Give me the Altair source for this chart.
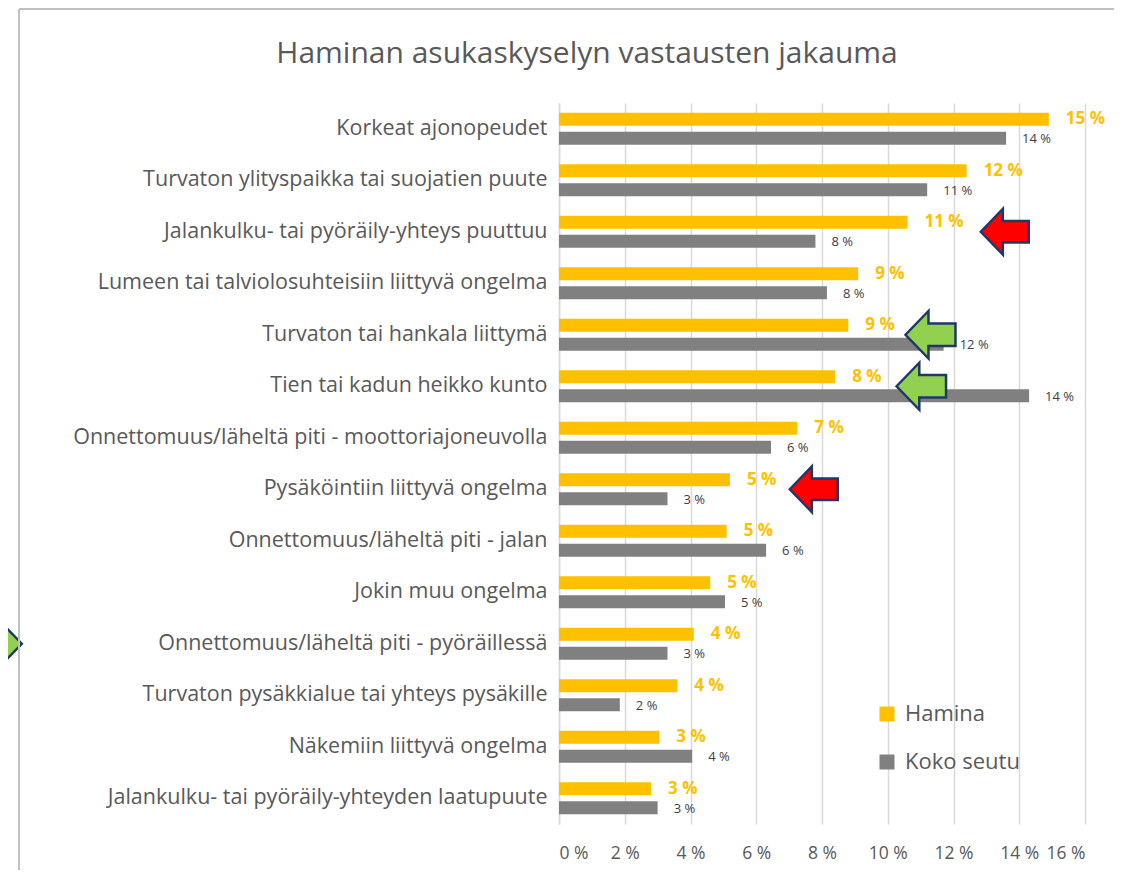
import altair as alt
import pandas as pd

title_text = "Haminan asukaskyselyn vastausten jakauma"
categories = [
    "Korkeat ajonopeudet",
    "Turvaton ylityspaikka tai suojatien puute",
    "Jalankulku- tai pyöräily-yhteys puuttuu",
    "Lumeen tai talviolosuhteisiin liittyvä ongelma",
    "Turvaton tai hankala liittymä",
    "Tien tai kadun heikko kunto",
    "Onnettomuus/läheltä piti - moottoriajoneuvolla",
    "Pysäköintiin liittyvä ongelma",
    "Onnettomuus/läheltä piti - jalan",
    "Jokin muu ongelma",
    "Onnettomuus/läheltä piti - pyöräillessä",
    "Turvaton pysäkkialue tai yhteys pysäkille",
    "Näkemiin liittyvä ongelma",
    "Jalankulku- tai pyöräily-yhteyden laatupuute",
]
hamina = [14.9, 12.4, 10.6, 9.1, 8.8, 8.4, 7.25, 5.2, 5.1, 4.6, 4.1, 3.6, 3.05, 2.8]
koko_seutu = [13.6, 11.2, 7.8, 8.15, 11.7, 14.3, 6.45, 3.3, 6.3, 5.05, 3.3, 1.85, 4.05, 3.0]
series_names = ["Hamina", "Koko seutu"]
series_colors = ["#FFC000", "#808080"]
x_ticks = [0, 2, 4, 6, 8, 10, 12, 14, 16]

# annotation arrows (category row, value position)
arrow_cats = [categories[2], categories[4], categories[5], categories[7], categories[10]]
arrow_values = [13.56, 11.3, 11.02, 7.75, -17.1]
arrow_colors = ["#FF0000", "#92D050", "#92D050", "#FF0000", "#92D050"]
arrow_dirs = ["left", "left", "left", "left", "right"]
arrow_sizes = [2304, 2500, 2450, 2304, 2500]

LEFT = "M -1 0 L -0.08 -0.95 L -0.08 -0.45 L 1 -0.45 L 1 0.45 L -0.08 0.45 L -0.08 0.95 Z"
RIGHT = "M 1 0 L 0.08 -0.95 L 0.08 -0.45 L -1 -0.45 L -1 0.45 L 0.08 0.45 L 0.08 0.95 Z"

rows = []
for c, h, k in zip(categories, hamina, koko_seutu):
    rows.append({"category": c, "series": series_names[0], "value": h})
    rows.append({"category": c, "series": series_names[1], "value": k})
df = pd.DataFrame(rows)

arrows = pd.DataFrame({
    "category": arrow_cats,
    "value": arrow_values,
    "color": arrow_colors,
    "shape": [LEFT if d == "left" else RIGHT for d in arrow_dirs],
    "size": arrow_sizes,
})

FONT = "Open Sans"
TEXT = "#595959"

xscale = alt.Scale(domain=[0, 16], nice=False, zero=True)
yscale = alt.Scale(paddingInner=0.38, paddingOuter=0.19)
yoff = alt.YOffset("series:N", sort=series_names,
                   scale=alt.Scale(paddingInner=0.316, paddingOuter=0))
Y = alt.Y("category:N", sort=categories, scale=yscale,
          axis=alt.Axis(title=None, ticks=False, domain=True, domainColor="#D9D9D9",
                        domainWidth=1.5, labelFont=FONT, labelFontSize=21.5,
                        labelColor=TEXT, labelPadding=12, labelLimit=700))
X = alt.X("value:Q", scale=xscale,
          axis=alt.Axis(values=x_ticks, labelExpr="datum.value + ' %'", title=None,
                        grid=True, gridColor="#D9D9D9", gridWidth=1.5,
                        domain=False, ticks=False, labelFont=FONT, labelFontSize=17.5,
                        labelColor=TEXT, labelPadding=20))

base = alt.Chart(df)

bars = base.mark_bar().encode(
    x=X,
    y=Y,
    yOffset=yoff,
    color=alt.Color("series:N", sort=series_names,
                    scale=alt.Scale(domain=series_names, range=series_colors),
                    legend=alt.Legend(title=None, orient="none", legendX=317, legendY=600,
                                      symbolType="square", symbolSize=225,
                                      symbolStrokeWidth=0, labelFont=FONT,
                                      labelFontSize=22, labelColor=TEXT,
                                      rowPadding=26, labelOffset=7, padding=0)),
)

lab_h = base.transform_filter(alt.datum.series == series_names[0]).transform_calculate(
    label="round(datum.value) + ' %'"
).mark_text(align="left", baseline="middle", dx=17, font=FONT, fontSize=17,
            fontWeight="bold", color="#FFC000").encode(
    x=X, y=Y, yOffset=yoff, text="label:N",
)

lab_k = base.transform_filter(alt.datum.series == series_names[1]).transform_calculate(
    label="round(datum.value) + ' %'"
).mark_text(align="left", baseline="middle", dx=16, dy=1, font=FONT, fontSize=13,
            color="#404040").encode(
    x=X, y=Y, yOffset=yoff, text="label:N",
)

arrow_layer = alt.Chart(arrows).mark_point(filled=True, opacity=1, stroke="#1F3864",
                                           strokeWidth=2.5, strokeOpacity=1).encode(
    x=X,
    y=Y,
    fill=alt.Fill("color:N", scale=None),
    shape=alt.Shape("shape:N", scale=None),
    size=alt.Size("size:Q", scale=None),
)

one = alt.Data(values=[{"t": title_text}])
title_layer = alt.Chart(one).mark_text(font=FONT, fontSize=30, color=TEXT,
                                       align="center", baseline="alphabetic").encode(
    x=alt.value(28), y=alt.value(-40), text="t:N")

frame_v = alt.Chart(one).mark_rule(color="#C0C0C0", strokeWidth=2).encode(
    x=alt.value(-540), y=alt.value(-94), y2=alt.value(800))
frame_h = alt.Chart(one).mark_rule(color="#C0C0C0", strokeWidth=2).encode(
    x=alt.value(-540), x2=alt.value(600), y=alt.value(-94))

chart = alt.layer(bars, lab_h, lab_k, arrow_layer, title_layer, frame_v, frame_h).properties(
    width=526, height=721,
    padding={"left": 551, "top": 95, "right": 29, "bottom": 46},
    autosize=alt.AutoSizeParams(type="none"),
).configure_view(stroke=None)

chart.save("out.html", embed_options={"renderer": "svg", "actions": False})
